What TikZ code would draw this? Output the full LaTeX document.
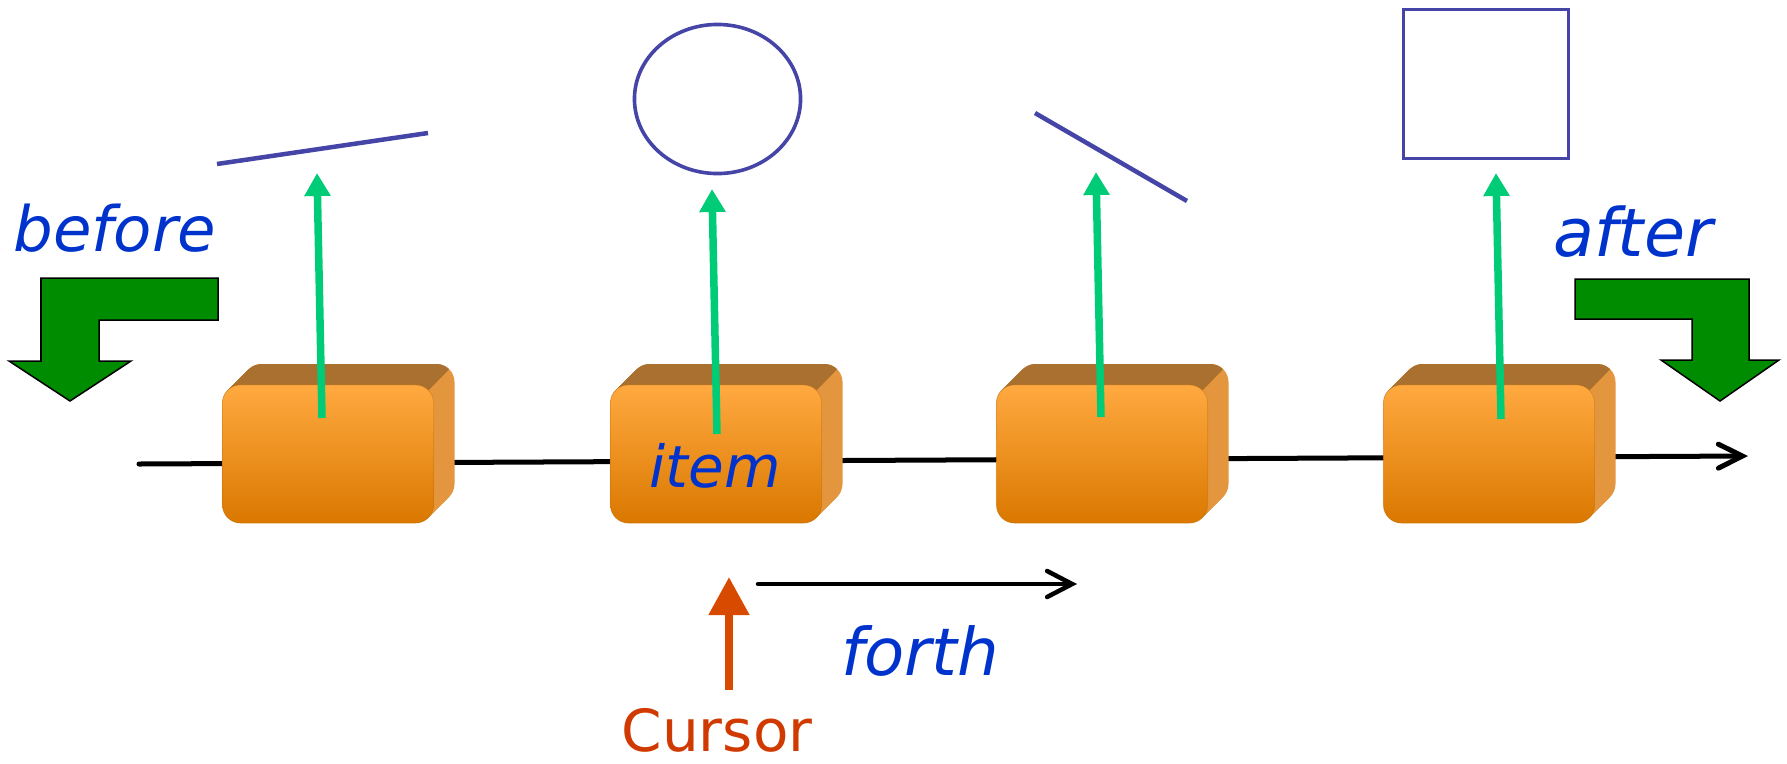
\documentclass[tikz,border=0pt]{standalone}
\usepackage{fontspec}
\setmainfont{DejaVu Sans}
\usetikzlibrary{arrows.meta,shapes.geometric}
\definecolor{frontTop}{HTML}{FFA940}
\definecolor{frontBot}{HTML}{DA7800}
\definecolor{topBrown}{HTML}{A97030}
\definecolor{sideOrange}{HTML}{E3963E}
\definecolor{ptrGreen}{HTML}{00CC77}
\definecolor{shapeBlue}{HTML}{4545A8}
\definecolor{txtBlue}{HTML}{0033CC}
\definecolor{curOrange}{HTML}{D84A00}
\definecolor{curText}{HTML}{D03A00}
\definecolor{blockGreen}{HTML}{008C00}
\tikzset{
  frontface/.style={minimum width=2.11cm, minimum height=1.38cm, inner sep=0pt,
    rounded corners=0.18cm, top color=frontTop, bottom color=frontBot, draw=frontBot!80!black, draw opacity=0.25, line width=0.01cm},
  ptr/.style={ptrGreen, line width=0.075cm, -{Triangle[length=0.23cm,width=0.25cm]}},
  obj/.style={shapeBlue, line width=0.045cm},
  objshape/.style={shapeBlue, line width=0.036cm, draw, inner sep=0pt},
  lbl/.style={inner sep=0pt, anchor=base, font=\itshape},
  bentarrow/.style={fill=blockGreen, draw=black, line width=0.015cm, line join=miter},
  chain/.style={black, line width=0.05cm, line cap=round, -{Straight Barb[length=0.24cm,width=0.24cm,line cap=round]}}
}
\newcommand\OrangeBlock[2]{%
  \foreach \k in {0,...,21} {
    \fill[sideOrange, rounded corners=0.18cm] (#1-105.5+\k,385-\k) rectangle (#1+105.5+\k,523-\k);
  }
  \begin{scope}
    \clip (#1-140,330) -- (#1+160,330) -- (#1+50,440) -- (#1-140,440) -- cycle;
    \foreach \k in {0,...,21} {
      \fill[topBrown, rounded corners=0.18cm] (#1-105.5+\k,385-\k) rectangle (#1+105.5+\k,523-\k);
    }
  \end{scope}
  \node[frontface] (#2) at (#1,454) {};
}
\begin{document}
\begin{tikzpicture}[x=0.01cm, y=-0.01cm]
\useasboundingbox (0,0) rectangle (1787,763);
% main chain line
\coordinate (ls) at (139,464);
\coordinate (le) at (1748,456);
\draw[chain] (ls) -- (le);
% boxes
\OrangeBlock{328}{b1}
\OrangeBlock{716}{b2}
\OrangeBlock{1102}{b3}
\OrangeBlock{1489}{b4}
% objects
\coordinate (l1a) at (217,164);
\coordinate (l1b) at (428,133);
\draw[obj] (l1a) -- (l1b);
\node[objshape, ellipse, minimum width=1.66cm, minimum height=1.49cm] (ell) at (717.5,99) {};
\coordinate (l2a) at (1035,113);
\coordinate (l2b) at (1187,201);
\draw[obj] (l2a) -- (l2b);
\node[objshape, minimum width=1.65cm, minimum height=1.49cm] (sq) at (1486,84) {};
% green pointers
\coordinate (p1s) at (322,418); \coordinate (p1e) at (317,173);
\coordinate (p2s) at (717,434); \coordinate (p2e) at (712,189);
\coordinate (p3s) at (1101,417); \coordinate (p3e) at (1096,172);
\coordinate (p4s) at (1501,419); \coordinate (p4e) at (1496,173);
\draw[ptr] (p1s) -- (p1e);
\draw[ptr] (p2s) -- (p2e);
\draw[ptr] (p3s) -- (p3e);
\draw[ptr] (p4s) -- (p4e);
% bent arrows
\draw[bentarrow] (41,278) -- (218,278) -- (218,320) -- (99,320) -- (99,361) -- (131,361) -- (70,401) -- (9,361) -- (41,361) -- cycle;
\draw[bentarrow] (1575,279) -- (1749,279) -- (1749,360) -- (1779,360) -- (1720,401) -- (1661,360) -- (1692,360) -- (1692,319) -- (1575,319) -- cycle;
% forth arrow
\coordinate (fs) at (758,584);
\coordinate (fe) at (1077,584);
\draw[black, line width=0.045cm, line cap=round, -{Straight Barb[length=0.25cm,width=0.26cm,line cap=round]}] (fs) -- (fe);
% cursor arrow
\coordinate (cs) at (729,690);
\coordinate (ce) at (729,577);
\draw[curOrange, line width=0.08cm, -{Triangle[length=0.38cm,width=0.39cm]}] (cs) -- (ce);
% labels
\node[lbl, txtBlue, font=\itshape\fontsize{17.8pt}{20pt}\selectfont] (tbefore) at (115,251) {before};
\node[lbl, txtBlue, font=\itshape\fontsize{19pt}{22pt}\selectfont] (tafter) at (1633,256) {after};
\node[lbl, txtBlue, font=\itshape\fontsize{16.5pt}{20pt}\selectfont] (titem) at (715,487) {item};
\node[lbl, txtBlue, font=\itshape\fontsize{18.7pt}{22pt}\selectfont] (tforth) at (920,675) {forth};
\node[lbl, curText, font=\fontsize{16.5pt}{20pt}\selectfont] (tcursor) at (717,751) {Cursor};
\end{tikzpicture}
\end{document}
